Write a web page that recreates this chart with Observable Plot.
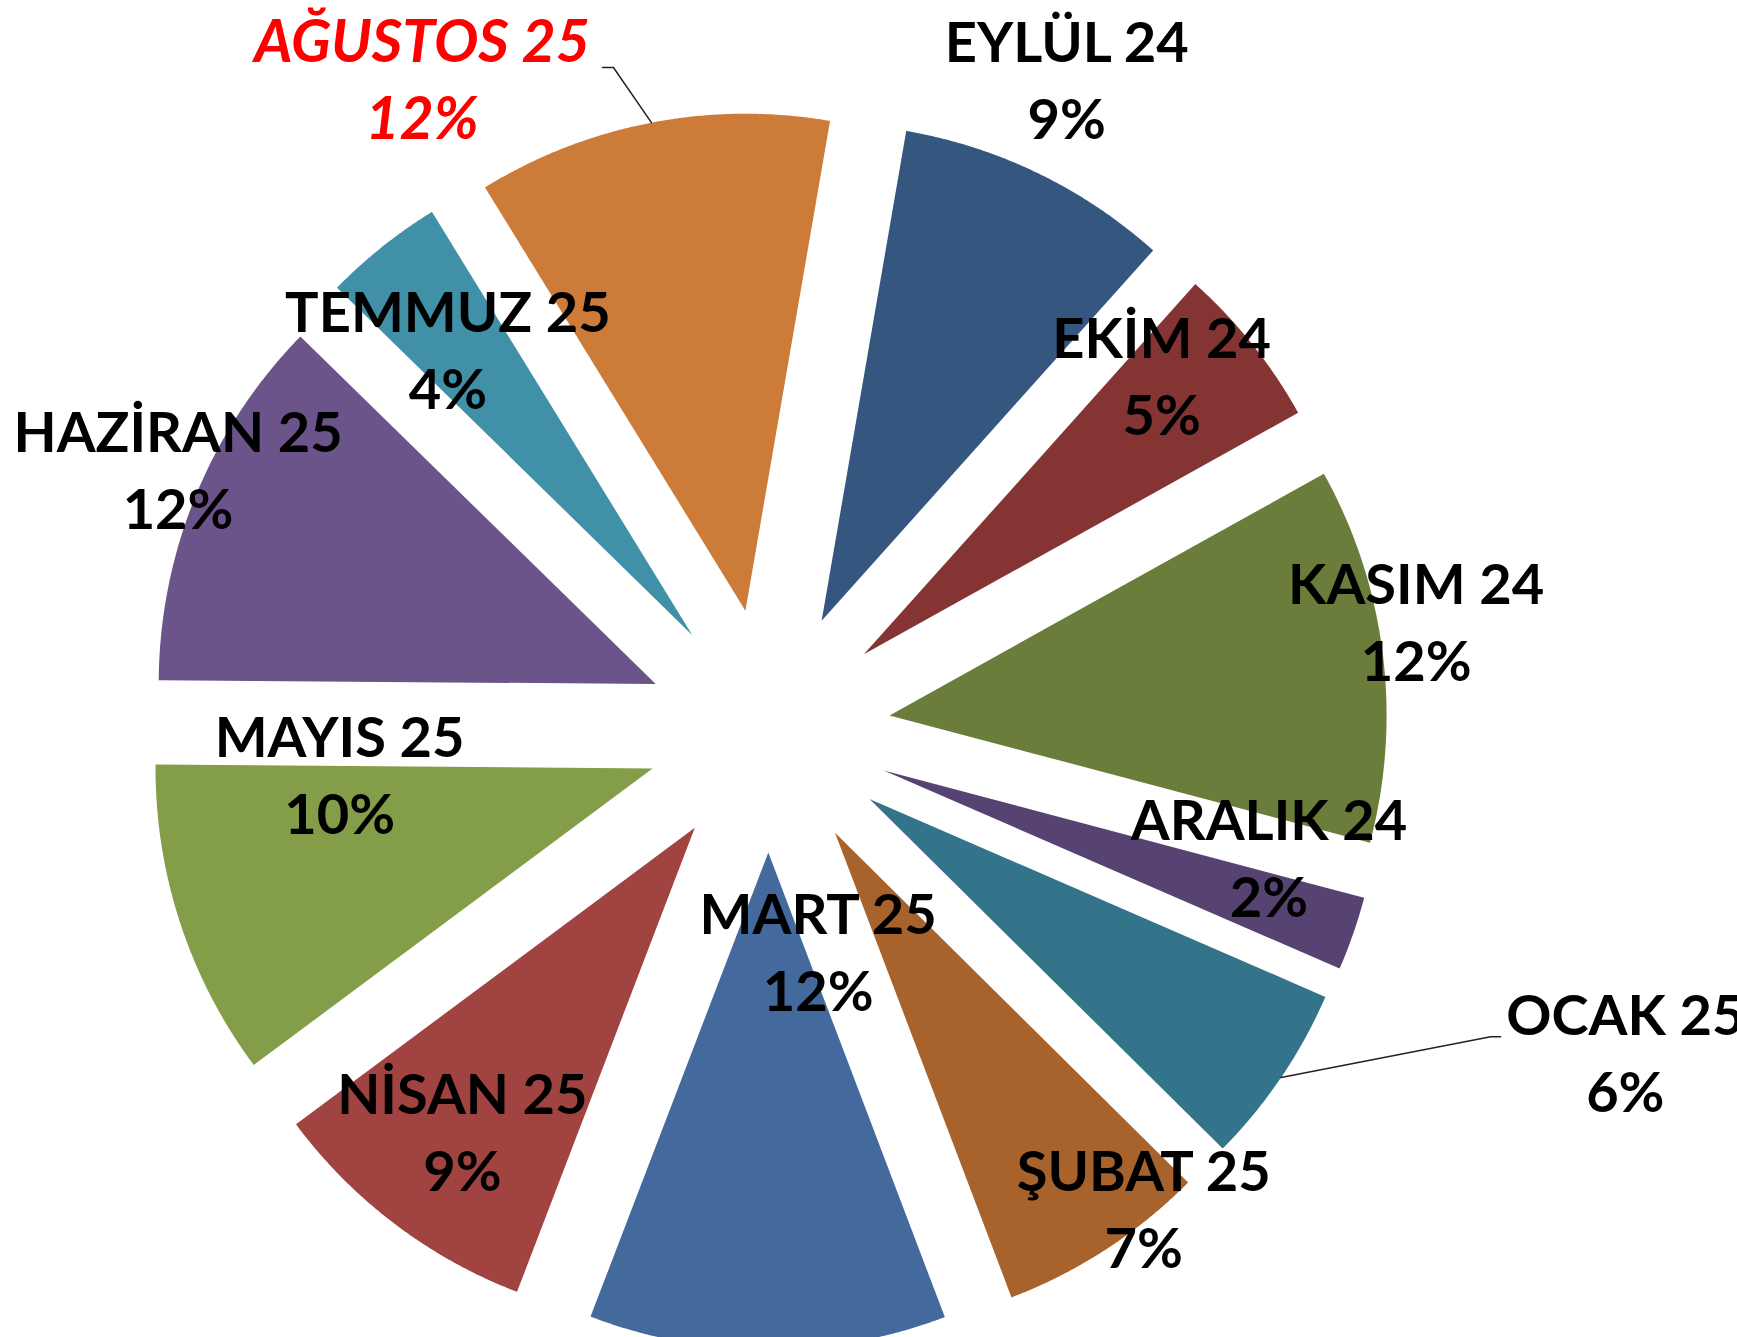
<!DOCTYPE html>
<html>
<head>
<meta charset="utf-8">
<script src="https://cdn.jsdelivr.net/npm/d3@7"></script>
<script src="https://cdn.jsdelivr.net/npm/@observablehq/plot@0.6"></script>
<style>
  html, body { margin: 0; padding: 0; background: #ffffff; }
  #chart { width: 1737px; height: 1337px; overflow: hidden; }
</style>
</head>
<body>
<div id="chart"></div>
<script>
// ---- data ----
const months = ["EYLÜL 24", "EKİM 24", "KASIM 24", "ARALIK 24", "OCAK 25", "ŞUBAT 25",
                "MART 25", "NİSAN 25", "MAYIS 25", "HAZİRAN 25", "TEMMUZ 25", "AĞUSTOS 25"];
const shares = [8.9, 5.3, 12.2, 2.4, 5.9, 6.8, 11.6, 9.0, 10.3, 12.2, 3.9, 11.5];
const colors = ["#35577f", "#843432", "#6a7d3a", "#574371", "#33748a", "#a8622b",
                "#446a9d", "#a04341", "#839d48", "#6b5489", "#4090a8", "#cd7b39"];

// ---- layout (in pie-radius units, y up) ----
const labelX = [0.600, 0.791, 1.303, 1.007, 1.724, 0.755, 0.100, -0.616, -0.863, -1.188, -0.645, -0.697];
const labelY = [1.317, 0.721, 0.226, -0.249, -0.641, -0.955, -0.438, -0.800, -0.082, 0.533, 0.773, 1.317];
const leaderSlices = [11, 4];
const leaderElbowX = [-0.312, 1.453];
const leaderElbowY = [1.334, -0.616];
const leaderEndX = [-0.334, 1.473];
const highlight = 11;

const W = 1737, H = 1337, CX = 768, CY = 730, RPX = 497;
const START = 9.8 * Math.PI / 180;
const EXPLODE = 122 / RPX;

const total = d3.sum(shares);
let acc = 0;
const slices = shares.map((v, i) => {
  const a0 = START + acc / total * 2 * Math.PI;
  acc += v;
  const a1 = START + acc / total * 2 * Math.PI;
  return {i, a0, a1, mid: (a0 + a1) / 2};
});

const pts = [];
slices.forEach(s => {
  const ox = EXPLODE * Math.sin(s.mid), oy = EXPLODE * Math.cos(s.mid);
  pts.push({k: s.i, x: ox, y: oy, c: colors[s.i]});
  const n = Math.max(10, Math.ceil((s.a1 - s.a0) / 0.005));
  for (let j = 0; j <= n; j++) {
    const a = s.a0 + (s.a1 - s.a0) * j / n;
    pts.push({k: s.i, x: ox + Math.sin(a), y: oy + Math.cos(a), c: colors[s.i]});
  }
});

const leaders = [];
leaderSlices.forEach((si, j) => {
  const s = slices[si];
  const ox = EXPLODE * Math.sin(s.mid), oy = EXPLODE * Math.cos(s.mid);
  leaders.push({k: j, x: ox + Math.sin(s.mid), y: oy + Math.cos(s.mid)});
  leaders.push({k: j, x: leaderElbowX[j], y: leaderElbowY[j]});
  leaders.push({k: j, x: leaderEndX[j], y: leaderElbowY[j]});
});

const labels = months.map((m, i) => ({
  i, x: labelX[i], y: labelY[i], text: m + "\n" + Math.round(shares[i]) + "%"
}));

const plot = Plot.plot({
  width: W, height: H,
  margin: 0,
  x: {domain: [(0 - CX) / RPX, (W - CX) / RPX], axis: null},
  y: {domain: [-(H - CY) / RPX, CY / RPX], axis: null},
  color: {type: "identity"},
  style: {background: "#ffffff", overflow: "hidden"},
  marks: [
    Plot.line(pts, {x: "x", y: "y", z: "k", fill: "c", stroke: null, curve: "linear"}),
    Plot.line(leaders, {x: "x", y: "y", z: "k", stroke: "#222222", strokeWidth: 1.5, curve: "linear"}),
    Plot.text(labels.filter(d => d.i !== highlight), {
      x: "x", y: "y", text: "text", fontSize: 56, fontWeight: "bold",
      fontFamily: "Lato, 'Open Sans', sans-serif", lineHeight: 1.375, fill: "#000000"
    }),
    Plot.text(labels.filter(d => d.i === highlight), {
      x: "x", y: "y", text: "text", fontSize: 59, fontWeight: "bold", fontStyle: "italic",
      fontFamily: "Lato, 'Open Sans', sans-serif", lineHeight: 1.31, fill: "#ff0000"
    })
  ]
});
document.getElementById("chart").appendChild(plot);
</script>
</body>
</html>
